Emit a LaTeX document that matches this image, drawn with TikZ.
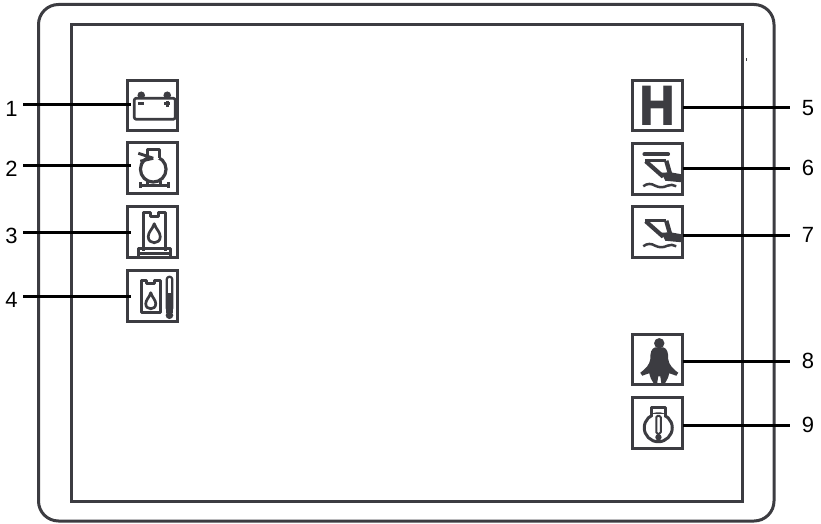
\documentclass[tikz,border=0pt]{standalone}
\usepackage{fontspec}
\setmainfont{Liberation Sans}
\newfontfamily\hfont{DejaVu Sans}
\definecolor{ink}{HTML}{3C3C41}
\tikzset{
  frameline/.style={draw=ink,line width=3pt},
  iconbox/.style={draw=ink,line width=3.2pt,minimum width=50.5pt,minimum height=50.5pt,inner sep=0pt,outer sep=0pt},
  leader/.style={draw=black,line width=3pt},
  num/.style={font=\fontsize{22}{24}\selectfont,text=black,inner sep=0pt},
  ic/.style={draw=ink,line width=2.7pt,line join=round},
}
\newcommand{\digger}{%
  \draw[ic,line width=3pt] (12.7,14)--(34,14);
  \draw[ic,line width=4.4pt] (34,14)--(38,28);
  \draw[ic,line width=4.2pt] (13.5,14.5)--(31,30);
  \fill[ink] (29,26)--(38,25.5)--(49,27.5)--(49,35.5)--(33,34)--cycle;
  \draw[ic,line width=2.5pt] (11,39.5) .. controls (15,36.5) and (19,36.5) .. (23,39) .. controls (27,41) and (31,41) .. (35,39) .. controls (38,37.5) and (41,38) .. (44,39.5);
}
\begin{document}
\begin{tikzpicture}[x=1pt,y=-1pt]
\useasboundingbox (0,0) rectangle (821,524);
\draw[frameline,rounded corners=20pt] (38.5,4.5) rectangle (774,521);
\draw[frameline] (71.5,24.5) rectangle (742.5,501);
\fill[ink] (745.6,58) rectangle (746.8,61);

% boxes
\node[iconbox] (b1) at (152.5,105.5) {};
\node[iconbox] (b2) at (152.5,168) {};
\node[iconbox] (b3) at (152.5,232) {};
\node[iconbox] (b4) at (152.5,296) {};
\node[iconbox,font=\hfont\fontsize{54}{54}\selectfont\bfseries,text=ink] (b5) at (657.5,105.5) {\scalebox{.84}[1]{H}};
\node[iconbox] (b6) at (657.5,169) {};
\node[iconbox] (b7) at (657.5,232) {};
\node[iconbox] (b8) at (657.5,359.5) {};
\node[iconbox] (b9) at (657.5,423) {};

% labels and leaders
\foreach \n/\y in {1/106,2/166,3/233,4/297}{
  \node[num] (n\n) at (11.5,\y+2.5) {\n};
  \coordinate (a\n) at (23,\y-1);
  \draw[leader,shorten >=-4pt] (a\n) -- (a\n -| b\n.west);
}
\foreach \n/\y in {5/108,6/168,7/235,8/361,9/425}{
  \node[num] (n\n) at (808,\y) {\n};
  \coordinate (a\n) at (790,\y);
  \draw[leader] (b\n.east |- a\n) -- (a\n);
}

% 1 battery
\begin{scope}[shift={(b1.north west)}]
  \fill[ink] (14,15) circle (3.8) (40,15) circle (3.8);
  \draw[ic,rounded corners=2pt] (7,18) rectangle (48,39);
  \draw[ic] (10.5,23.5)--(17,23.5) (36.5,23.5)--(43,23.5) (40,20.5)--(40,26.5);
\end{scope}
% 2 engine
\begin{scope}[shift={(b2.north west)}]
  \draw[ic,line width=3.2pt] (26,26.5) circle (12.8);
  \fill[white] (20,7) rectangle (32,16);
  \draw[ic] (20,15.5)--(20,7)--(32,7)--(32,15.5);
  \draw[ic,line width=3pt] (11,10.5)--(26,15.5) (13,18.5)--(26,15.5);
  \draw[ic] (13,42.5)--(41,42.5) (13,39.5)--(13,45.5) (41,39.5)--(41,45.5) (20,38)--(20,42) (33,38)--(33,42);
\end{scope}
% 3 oil
\begin{scope}[shift={(b3.north west)}]
  \draw[ic,line width=3.4pt] (16,44)--(16,6)--(23,6)--(23,10)--(31,10)--(31,6)--(38,6)--(38,44);
  \draw[ic] (27,17) .. controls (29,23) and (33,25) .. (33,30) .. controls (33,34) and (30,36) .. (27,36) .. controls (24,36) and (21,34) .. (21,30) .. controls (21,25) and (25,23) .. (27,17) -- cycle;
  \draw[ic,line width=2.8pt] (11,49)--(11,42)--(43,42)--(43,49) (11,46.5)--(43,46.5);
\end{scope}
% 4 oil + thermometer
\begin{scope}[shift={(b4.north west)}]
  \draw[ic,line width=3pt] (14,42)--(14,10)--(19,10)--(19,13)--(27,13)--(27,10)--(33,10)--(33,42)--cycle;
  \draw[ic] (23.5,22) .. controls (25,27) and (28.5,29) .. (28.5,33) .. controls (28.5,36.5) and (26,38) .. (23.5,38) .. controls (21,38) and (18.5,36.5) .. (18.5,33) .. controls (18.5,29) and (22,27) .. (23.5,22) -- cycle;
  \draw[ic,line width=2.2pt,rounded corners=2.5pt] (39.5,6) rectangle (45,40);
  \fill[ink] (39,22) rectangle (45.5,42);
  \fill[ink] (42.2,44.5) circle (3.8);
\end{scope}
% 6 and 7 digger
\begin{scope}[shift={(b6.north west)}]
  \draw[ic,line width=3.6pt,line cap=round] (12,10.5)--(36,10.5);
  \begin{scope}[yshift=-3pt]\digger\end{scope}
\end{scope}
\begin{scope}[shift={(b7.north west)}]
  \digger
\end{scope}
% 8 person
\begin{scope}[shift={(b8.north west)}]
  \fill[ink] (27,9) circle (5.2);
  \fill[ink] (23,13)--(31,13) .. controls (35,14.5) and (36,18) .. (36,25)
    .. controls (36.5,30) and (40,34) .. (46,38.5) -- (44,41.5) .. controls (41,40.5) and (39,39.5) .. (37,39)
    .. controls (36,43) and (35,46) .. (33,48.5) -- (29,48.5) -- (28,42) -- (26,42) -- (25,48.5) -- (21,48.5)
    .. controls (19,46) and (18,43) .. (17,39) .. controls (15,39.5) and (13,40.5) .. (10,41.5) -- (8,38.5)
    .. controls (14,34) and (17.5,30) .. (18,25) .. controls (18,18) and (19,14.5) .. (23,13) -- cycle;
\end{scope}
% 9 engine temperature
\begin{scope}[shift={(b9.north west)}]
  \draw[ic,line width=3pt] (19.5,18.5)--(19.5,9.5)--(33.5,9.5)--(33.5,18.5);
  \draw[ic,line width=3pt,fill=white] (26,30) circle (14);
  \fill[white] (21,16.5) rectangle (32,20.5);
  \draw[ic,line width=2pt,rounded corners=1.5pt] (24,18) rectangle (28.5,36);
  \fill[ink] (26.2,39.5) circle (3.2);
  \draw[ic,line width=2pt] (26.2,37)--(26.2,44);
\end{scope}
\end{tikzpicture}
\end{document}
